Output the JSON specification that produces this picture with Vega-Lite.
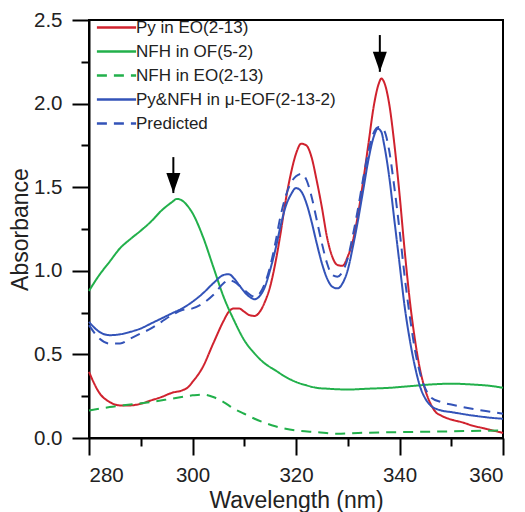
{
  "$schema": "https://vega.github.io/schema/vega-lite/v6.json",
  "autosize": {"type": "none"},
  "width": 414,
  "height": 418,
  "padding": {"left": 89, "top": 20, "right": 22, "bottom": 74},
  "config": {
    "font": "Liberation Sans",
    "view": {"stroke": "black", "strokeWidth": 2},
    "axis": {"ticks": true, "domainColor": "black", "domainWidth": 2, "tickColor": "black", "tickWidth": 2, "tickOpacity": 1, "labelColor": "#222", "titleColor": "#222", "grid": false, "labelFontSize": 20.5, "titleFontWeight": "normal"},
    "legend": {"labelFontSize": 17, "labelColor": "#222"}
  },
  "resolve": {"axis": {"x": "independent", "y": "independent"}},
  "datasets": {
    "curves": [
      {"series": "Py in EO(2-13)", "wl": 280, "abs": 0.395},
      {"series": "Py in EO(2-13)", "wl": 282, "abs": 0.27},
      {"series": "Py in EO(2-13)", "wl": 284, "abs": 0.215},
      {"series": "Py in EO(2-13)", "wl": 286, "abs": 0.195},
      {"series": "Py in EO(2-13)", "wl": 288, "abs": 0.195},
      {"series": "Py in EO(2-13)", "wl": 290, "abs": 0.205},
      {"series": "Py in EO(2-13)", "wl": 292, "abs": 0.225},
      {"series": "Py in EO(2-13)", "wl": 294, "abs": 0.245},
      {"series": "Py in EO(2-13)", "wl": 296, "abs": 0.27},
      {"series": "Py in EO(2-13)", "wl": 298, "abs": 0.285},
      {"series": "Py in EO(2-13)", "wl": 299, "abs": 0.3},
      {"series": "Py in EO(2-13)", "wl": 300, "abs": 0.335},
      {"series": "Py in EO(2-13)", "wl": 302, "abs": 0.425},
      {"series": "Py in EO(2-13)", "wl": 304, "abs": 0.565},
      {"series": "Py in EO(2-13)", "wl": 306, "abs": 0.7},
      {"series": "Py in EO(2-13)", "wl": 307, "abs": 0.755},
      {"series": "Py in EO(2-13)", "wl": 308, "abs": 0.775},
      {"series": "Py in EO(2-13)", "wl": 309, "abs": 0.775},
      {"series": "Py in EO(2-13)", "wl": 310, "abs": 0.755},
      {"series": "Py in EO(2-13)", "wl": 311, "abs": 0.735},
      {"series": "Py in EO(2-13)", "wl": 312, "abs": 0.73},
      {"series": "Py in EO(2-13)", "wl": 313, "abs": 0.755},
      {"series": "Py in EO(2-13)", "wl": 314, "abs": 0.815},
      {"series": "Py in EO(2-13)", "wl": 315, "abs": 0.905},
      {"series": "Py in EO(2-13)", "wl": 316, "abs": 1.045},
      {"series": "Py in EO(2-13)", "wl": 317, "abs": 1.22},
      {"series": "Py in EO(2-13)", "wl": 318, "abs": 1.42},
      {"series": "Py in EO(2-13)", "wl": 319, "abs": 1.58},
      {"series": "Py in EO(2-13)", "wl": 320, "abs": 1.7},
      {"series": "Py in EO(2-13)", "wl": 321, "abs": 1.76},
      {"series": "Py in EO(2-13)", "wl": 322, "abs": 1.75},
      {"series": "Py in EO(2-13)", "wl": 323, "abs": 1.68},
      {"series": "Py in EO(2-13)", "wl": 324, "abs": 1.54},
      {"series": "Py in EO(2-13)", "wl": 325, "abs": 1.38},
      {"series": "Py in EO(2-13)", "wl": 326, "abs": 1.2},
      {"series": "Py in EO(2-13)", "wl": 327, "abs": 1.085},
      {"series": "Py in EO(2-13)", "wl": 328, "abs": 1.035},
      {"series": "Py in EO(2-13)", "wl": 329, "abs": 1.03},
      {"series": "Py in EO(2-13)", "wl": 330, "abs": 1.085},
      {"series": "Py in EO(2-13)", "wl": 331, "abs": 1.18},
      {"series": "Py in EO(2-13)", "wl": 332, "abs": 1.34},
      {"series": "Py in EO(2-13)", "wl": 333, "abs": 1.54},
      {"series": "Py in EO(2-13)", "wl": 334, "abs": 1.76},
      {"series": "Py in EO(2-13)", "wl": 335, "abs": 1.98},
      {"series": "Py in EO(2-13)", "wl": 336, "abs": 2.12},
      {"series": "Py in EO(2-13)", "wl": 336.5, "abs": 2.15},
      {"series": "Py in EO(2-13)", "wl": 337, "abs": 2.13},
      {"series": "Py in EO(2-13)", "wl": 338, "abs": 2.0},
      {"series": "Py in EO(2-13)", "wl": 339, "abs": 1.76},
      {"series": "Py in EO(2-13)", "wl": 340, "abs": 1.46},
      {"series": "Py in EO(2-13)", "wl": 341, "abs": 1.12},
      {"series": "Py in EO(2-13)", "wl": 342, "abs": 0.82},
      {"series": "Py in EO(2-13)", "wl": 343, "abs": 0.585},
      {"series": "Py in EO(2-13)", "wl": 344, "abs": 0.405},
      {"series": "Py in EO(2-13)", "wl": 345, "abs": 0.285},
      {"series": "Py in EO(2-13)", "wl": 346, "abs": 0.205},
      {"series": "Py in EO(2-13)", "wl": 347, "abs": 0.155},
      {"series": "Py in EO(2-13)", "wl": 348, "abs": 0.135},
      {"series": "Py in EO(2-13)", "wl": 350, "abs": 0.11},
      {"series": "Py in EO(2-13)", "wl": 352, "abs": 0.095},
      {"series": "Py in EO(2-13)", "wl": 354, "abs": 0.075},
      {"series": "Py in EO(2-13)", "wl": 356, "abs": 0.06},
      {"series": "Py in EO(2-13)", "wl": 358, "abs": 0.045},
      {"series": "Py in EO(2-13)", "wl": 360, "abs": 0.03},

      {"series": "NFH in OF(5-2)", "wl": 280, "abs": 0.88},
      {"series": "NFH in OF(5-2)", "wl": 282, "abs": 0.975},
      {"series": "NFH in OF(5-2)", "wl": 284, "abs": 1.055},
      {"series": "NFH in OF(5-2)", "wl": 286, "abs": 1.135},
      {"series": "NFH in OF(5-2)", "wl": 288, "abs": 1.19},
      {"series": "NFH in OF(5-2)", "wl": 290, "abs": 1.24},
      {"series": "NFH in OF(5-2)", "wl": 292, "abs": 1.295},
      {"series": "NFH in OF(5-2)", "wl": 294, "abs": 1.36},
      {"series": "NFH in OF(5-2)", "wl": 296, "abs": 1.41},
      {"series": "NFH in OF(5-2)", "wl": 297, "abs": 1.43},
      {"series": "NFH in OF(5-2)", "wl": 298, "abs": 1.42},
      {"series": "NFH in OF(5-2)", "wl": 299, "abs": 1.39},
      {"series": "NFH in OF(5-2)", "wl": 300, "abs": 1.345},
      {"series": "NFH in OF(5-2)", "wl": 302, "abs": 1.205},
      {"series": "NFH in OF(5-2)", "wl": 304, "abs": 1.025},
      {"series": "NFH in OF(5-2)", "wl": 306, "abs": 0.845},
      {"series": "NFH in OF(5-2)", "wl": 308, "abs": 0.705},
      {"series": "NFH in OF(5-2)", "wl": 310, "abs": 0.585},
      {"series": "NFH in OF(5-2)", "wl": 312, "abs": 0.505},
      {"series": "NFH in OF(5-2)", "wl": 314, "abs": 0.445},
      {"series": "NFH in OF(5-2)", "wl": 316, "abs": 0.405},
      {"series": "NFH in OF(5-2)", "wl": 318, "abs": 0.365},
      {"series": "NFH in OF(5-2)", "wl": 320, "abs": 0.335},
      {"series": "NFH in OF(5-2)", "wl": 322, "abs": 0.315},
      {"series": "NFH in OF(5-2)", "wl": 324, "abs": 0.3},
      {"series": "NFH in OF(5-2)", "wl": 326, "abs": 0.295},
      {"series": "NFH in OF(5-2)", "wl": 330, "abs": 0.29},
      {"series": "NFH in OF(5-2)", "wl": 334, "abs": 0.295},
      {"series": "NFH in OF(5-2)", "wl": 338, "abs": 0.3},
      {"series": "NFH in OF(5-2)", "wl": 342, "abs": 0.31},
      {"series": "NFH in OF(5-2)", "wl": 346, "abs": 0.32},
      {"series": "NFH in OF(5-2)", "wl": 350, "abs": 0.325},
      {"series": "NFH in OF(5-2)", "wl": 354, "abs": 0.32},
      {"series": "NFH in OF(5-2)", "wl": 358, "abs": 0.31},
      {"series": "NFH in OF(5-2)", "wl": 360, "abs": 0.3},

      {"series": "NFH in EO(2-13)", "wl": 280, "abs": 0.165},
      {"series": "NFH in EO(2-13)", "wl": 284, "abs": 0.185},
      {"series": "NFH in EO(2-13)", "wl": 288, "abs": 0.2},
      {"series": "NFH in EO(2-13)", "wl": 292, "abs": 0.215},
      {"series": "NFH in EO(2-13)", "wl": 296, "abs": 0.235},
      {"series": "NFH in EO(2-13)", "wl": 300, "abs": 0.255},
      {"series": "NFH in EO(2-13)", "wl": 302, "abs": 0.26},
      {"series": "NFH in EO(2-13)", "wl": 304, "abs": 0.245},
      {"series": "NFH in EO(2-13)", "wl": 306, "abs": 0.215},
      {"series": "NFH in EO(2-13)", "wl": 308, "abs": 0.175},
      {"series": "NFH in EO(2-13)", "wl": 310, "abs": 0.145},
      {"series": "NFH in EO(2-13)", "wl": 312, "abs": 0.115},
      {"series": "NFH in EO(2-13)", "wl": 314, "abs": 0.09},
      {"series": "NFH in EO(2-13)", "wl": 316, "abs": 0.07},
      {"series": "NFH in EO(2-13)", "wl": 318, "abs": 0.055},
      {"series": "NFH in EO(2-13)", "wl": 320, "abs": 0.045},
      {"series": "NFH in EO(2-13)", "wl": 324, "abs": 0.035},
      {"series": "NFH in EO(2-13)", "wl": 328, "abs": 0.025},
      {"series": "NFH in EO(2-13)", "wl": 332, "abs": 0.03},
      {"series": "NFH in EO(2-13)", "wl": 340, "abs": 0.035},
      {"series": "NFH in EO(2-13)", "wl": 350, "abs": 0.04},
      {"series": "NFH in EO(2-13)", "wl": 360, "abs": 0.045},

      {"series": "Py&NFH in μ-EOF(2-13-2)", "wl": 280, "abs": 0.695},
      {"series": "Py&NFH in μ-EOF(2-13-2)", "wl": 282, "abs": 0.635},
      {"series": "Py&NFH in μ-EOF(2-13-2)", "wl": 284, "abs": 0.615},
      {"series": "Py&NFH in μ-EOF(2-13-2)", "wl": 286, "abs": 0.62},
      {"series": "Py&NFH in μ-EOF(2-13-2)", "wl": 288, "abs": 0.635},
      {"series": "Py&NFH in μ-EOF(2-13-2)", "wl": 290, "abs": 0.655},
      {"series": "Py&NFH in μ-EOF(2-13-2)", "wl": 292, "abs": 0.685},
      {"series": "Py&NFH in μ-EOF(2-13-2)", "wl": 294, "abs": 0.715},
      {"series": "Py&NFH in μ-EOF(2-13-2)", "wl": 296, "abs": 0.745},
      {"series": "Py&NFH in μ-EOF(2-13-2)", "wl": 298, "abs": 0.775},
      {"series": "Py&NFH in μ-EOF(2-13-2)", "wl": 300, "abs": 0.815},
      {"series": "Py&NFH in μ-EOF(2-13-2)", "wl": 302, "abs": 0.865},
      {"series": "Py&NFH in μ-EOF(2-13-2)", "wl": 304, "abs": 0.925},
      {"series": "Py&NFH in μ-EOF(2-13-2)", "wl": 306, "abs": 0.975},
      {"series": "Py&NFH in μ-EOF(2-13-2)", "wl": 307, "abs": 0.98},
      {"series": "Py&NFH in μ-EOF(2-13-2)", "wl": 308, "abs": 0.955},
      {"series": "Py&NFH in μ-EOF(2-13-2)", "wl": 309, "abs": 0.915},
      {"series": "Py&NFH in μ-EOF(2-13-2)", "wl": 310, "abs": 0.875},
      {"series": "Py&NFH in μ-EOF(2-13-2)", "wl": 311, "abs": 0.845},
      {"series": "Py&NFH in μ-EOF(2-13-2)", "wl": 312, "abs": 0.83},
      {"series": "Py&NFH in μ-EOF(2-13-2)", "wl": 313, "abs": 0.85},
      {"series": "Py&NFH in μ-EOF(2-13-2)", "wl": 314, "abs": 0.905},
      {"series": "Py&NFH in μ-EOF(2-13-2)", "wl": 315, "abs": 1.005},
      {"series": "Py&NFH in μ-EOF(2-13-2)", "wl": 316, "abs": 1.125},
      {"series": "Py&NFH in μ-EOF(2-13-2)", "wl": 317, "abs": 1.265},
      {"series": "Py&NFH in μ-EOF(2-13-2)", "wl": 318, "abs": 1.385},
      {"series": "Py&NFH in μ-EOF(2-13-2)", "wl": 319, "abs": 1.455},
      {"series": "Py&NFH in μ-EOF(2-13-2)", "wl": 320, "abs": 1.495},
      {"series": "Py&NFH in μ-EOF(2-13-2)", "wl": 321, "abs": 1.475},
      {"series": "Py&NFH in μ-EOF(2-13-2)", "wl": 322, "abs": 1.405},
      {"series": "Py&NFH in μ-EOF(2-13-2)", "wl": 323, "abs": 1.295},
      {"series": "Py&NFH in μ-EOF(2-13-2)", "wl": 324, "abs": 1.165},
      {"series": "Py&NFH in μ-EOF(2-13-2)", "wl": 325, "abs": 1.045},
      {"series": "Py&NFH in μ-EOF(2-13-2)", "wl": 326, "abs": 0.955},
      {"series": "Py&NFH in μ-EOF(2-13-2)", "wl": 327, "abs": 0.905},
      {"series": "Py&NFH in μ-EOF(2-13-2)", "wl": 328, "abs": 0.895},
      {"series": "Py&NFH in μ-EOF(2-13-2)", "wl": 329, "abs": 0.925},
      {"series": "Py&NFH in μ-EOF(2-13-2)", "wl": 330, "abs": 1.005},
      {"series": "Py&NFH in μ-EOF(2-13-2)", "wl": 331, "abs": 1.145},
      {"series": "Py&NFH in μ-EOF(2-13-2)", "wl": 332, "abs": 1.305},
      {"series": "Py&NFH in μ-EOF(2-13-2)", "wl": 333, "abs": 1.485},
      {"series": "Py&NFH in μ-EOF(2-13-2)", "wl": 334, "abs": 1.665},
      {"series": "Py&NFH in μ-EOF(2-13-2)", "wl": 335, "abs": 1.8},
      {"series": "Py&NFH in μ-EOF(2-13-2)", "wl": 335.8, "abs": 1.85},
      {"series": "Py&NFH in μ-EOF(2-13-2)", "wl": 336.5, "abs": 1.83},
      {"series": "Py&NFH in μ-EOF(2-13-2)", "wl": 337, "abs": 1.76},
      {"series": "Py&NFH in μ-EOF(2-13-2)", "wl": 338, "abs": 1.565},
      {"series": "Py&NFH in μ-EOF(2-13-2)", "wl": 339, "abs": 1.305},
      {"series": "Py&NFH in μ-EOF(2-13-2)", "wl": 340, "abs": 1.045},
      {"series": "Py&NFH in μ-EOF(2-13-2)", "wl": 341, "abs": 0.785},
      {"series": "Py&NFH in μ-EOF(2-13-2)", "wl": 342, "abs": 0.585},
      {"series": "Py&NFH in μ-EOF(2-13-2)", "wl": 343, "abs": 0.425},
      {"series": "Py&NFH in μ-EOF(2-13-2)", "wl": 344, "abs": 0.305},
      {"series": "Py&NFH in μ-EOF(2-13-2)", "wl": 345, "abs": 0.235},
      {"series": "Py&NFH in μ-EOF(2-13-2)", "wl": 346, "abs": 0.195},
      {"series": "Py&NFH in μ-EOF(2-13-2)", "wl": 348, "abs": 0.165},
      {"series": "Py&NFH in μ-EOF(2-13-2)", "wl": 350, "abs": 0.155},
      {"series": "Py&NFH in μ-EOF(2-13-2)", "wl": 354, "abs": 0.135},
      {"series": "Py&NFH in μ-EOF(2-13-2)", "wl": 358, "abs": 0.12},
      {"series": "Py&NFH in μ-EOF(2-13-2)", "wl": 360, "abs": 0.115},

      {"series": "Predicted", "wl": 280, "abs": 0.675},
      {"series": "Predicted", "wl": 282, "abs": 0.595},
      {"series": "Predicted", "wl": 284, "abs": 0.565},
      {"series": "Predicted", "wl": 286, "abs": 0.565},
      {"series": "Predicted", "wl": 288, "abs": 0.595},
      {"series": "Predicted", "wl": 290, "abs": 0.625},
      {"series": "Predicted", "wl": 292, "abs": 0.655},
      {"series": "Predicted", "wl": 294, "abs": 0.695},
      {"series": "Predicted", "wl": 296, "abs": 0.735},
      {"series": "Predicted", "wl": 298, "abs": 0.765},
      {"series": "Predicted", "wl": 300, "abs": 0.775},
      {"series": "Predicted", "wl": 302, "abs": 0.805},
      {"series": "Predicted", "wl": 304, "abs": 0.855},
      {"series": "Predicted", "wl": 306, "abs": 0.925},
      {"series": "Predicted", "wl": 307, "abs": 0.945},
      {"series": "Predicted", "wl": 308, "abs": 0.935},
      {"series": "Predicted", "wl": 310, "abs": 0.885},
      {"series": "Predicted", "wl": 312, "abs": 0.845},
      {"series": "Predicted", "wl": 313, "abs": 0.865},
      {"series": "Predicted", "wl": 314, "abs": 0.925},
      {"series": "Predicted", "wl": 315, "abs": 1.025},
      {"series": "Predicted", "wl": 316, "abs": 1.165},
      {"series": "Predicted", "wl": 317, "abs": 1.325},
      {"series": "Predicted", "wl": 318, "abs": 1.445},
      {"series": "Predicted", "wl": 319, "abs": 1.525},
      {"series": "Predicted", "wl": 320, "abs": 1.565},
      {"series": "Predicted", "wl": 321, "abs": 1.58},
      {"series": "Predicted", "wl": 322, "abs": 1.545},
      {"series": "Predicted", "wl": 323, "abs": 1.445},
      {"series": "Predicted", "wl": 324, "abs": 1.305},
      {"series": "Predicted", "wl": 325, "abs": 1.165},
      {"series": "Predicted", "wl": 326, "abs": 1.045},
      {"series": "Predicted", "wl": 327, "abs": 0.975},
      {"series": "Predicted", "wl": 328, "abs": 0.965},
      {"series": "Predicted", "wl": 329, "abs": 0.995},
      {"series": "Predicted", "wl": 330, "abs": 1.075},
      {"series": "Predicted", "wl": 331, "abs": 1.215},
      {"series": "Predicted", "wl": 332, "abs": 1.375},
      {"series": "Predicted", "wl": 333, "abs": 1.555},
      {"series": "Predicted", "wl": 334, "abs": 1.715},
      {"series": "Predicted", "wl": 335, "abs": 1.825},
      {"series": "Predicted", "wl": 336, "abs": 1.86},
      {"series": "Predicted", "wl": 337, "abs": 1.84},
      {"series": "Predicted", "wl": 338, "abs": 1.72},
      {"series": "Predicted", "wl": 339, "abs": 1.5},
      {"series": "Predicted", "wl": 340, "abs": 1.245},
      {"series": "Predicted", "wl": 341, "abs": 0.965},
      {"series": "Predicted", "wl": 342, "abs": 0.725},
      {"series": "Predicted", "wl": 343, "abs": 0.525},
      {"series": "Predicted", "wl": 344, "abs": 0.385},
      {"series": "Predicted", "wl": 345, "abs": 0.295},
      {"series": "Predicted", "wl": 346, "abs": 0.245},
      {"series": "Predicted", "wl": 348, "abs": 0.215},
      {"series": "Predicted", "wl": 350, "abs": 0.2},
      {"series": "Predicted", "wl": 354, "abs": 0.175},
      {"series": "Predicted", "wl": 358, "abs": 0.155},
      {"series": "Predicted", "wl": 360, "abs": 0.145}
    ],
    "arrows": [
      {"wl": 296.3, "top": 1.68, "tip": 1.465},
      {"wl": 336.2, "top": 2.41, "tip": 2.19}
    ]
  },
  "layer": [
    {
      "data": {"name": "curves"},
      "mark": {"type": "line", "interpolate": "monotone", "strokeWidth": 2},
      "encoding": {
        "x": {
          "field": "wl", "type": "quantitative",
          "scale": {"domain": [280, 360], "nice": false, "zero": false},
          "axis": {
            "orient": "bottom",
            "title": "Wavelength (nm)",
            "titleFontSize": 23,
            "values": [280, 300, 320, 340, 360],
            "ticks": true, "tickColor": "black", "tickWidth": 2, "tickOpacity": 1,
            "tickSize": 17,
            "labelPadding": 10,
            "titlePadding": 4
          }
        },
        "y": {
          "field": "abs", "type": "quantitative",
          "scale": {"domain": [0, 2.5], "nice": false},
          "axis": {
            "orient": "left",
            "title": "Absorbance",
            "titleFontSize": 23,
            "values": [0, 0.5, 1, 1.5, 2, 2.5],
            "format": ".1f",
            "ticks": true, "tickColor": "black", "tickWidth": 2, "tickOpacity": 1,
            "tickSize": 17,
            "labelPadding": 10,
            "titlePadding": 1.5
          }
        },
        "color": {
          "field": "series", "type": "nominal",
          "scale": {
            "domain": ["Py in EO(2-13)", "NFH in OF(5-2)", "NFH in EO(2-13)", "Py&NFH in μ-EOF(2-13-2)", "Predicted"],
            "range": ["#d0222e", "#22b04b", "#22b04b", "#3353b8", "#3353b8"]
          },
          "legend": {
            "title": null, "orient": "none", "legendX": 12, "legendY": -8,
            "symbolType": "M-1.4,0H1.4", "symbolSize": 784, "symbolStrokeWidth": 2.5,
            "rowPadding": 0, "labelOffset": 4, "padding": 0, "labelLimit": 0
          }
        },
        "strokeDash": {
          "field": "series", "type": "nominal",
          "scale": {
            "domain": ["Py in EO(2-13)", "NFH in OF(5-2)", "NFH in EO(2-13)", "Py&NFH in μ-EOF(2-13-2)", "Predicted"],
            "range": [[1, 0], [1, 0], [10, 7], [1, 0], [10, 7]]
          },
          "legend": {
            "title": null, "orient": "none", "legendX": 12, "legendY": -8,
            "symbolType": "M-1.4,0H1.4", "symbolSize": 784, "symbolStrokeWidth": 2.5,
            "rowPadding": 0, "labelOffset": 4, "padding": 0, "labelLimit": 0
          }
        }
      }
    },
    {
      "data": {"name": "arrows"},
      "mark": {"type": "rule", "color": "black", "strokeWidth": 2},
      "encoding": {
        "x": {
          "field": "wl", "type": "quantitative",
          "axis": {"orient": "bottom", "values": [290, 310, 330, 350], "ticks": true, "tickColor": "black", "tickWidth": 2, "tickOpacity": 1, "tickSize": 8, "labels": false, "domain": false, "title": null}
        },
        "y": {
          "field": "top", "type": "quantitative",
          "axis": {"orient": "left", "values": [0.25, 0.75, 1.25, 1.75, 2.25], "ticks": true, "tickColor": "black", "tickWidth": 2, "tickOpacity": 1, "tickSize": 8, "labels": false, "domain": false, "title": null}
        },
        "y2": {"field": "tip"}
      }
    },
    {
      "data": {"name": "arrows"},
      "mark": {"type": "point", "shape": "M-0.35,-1L0.35,-1L0,0Z", "size": 1600, "filled": true, "color": "black", "opacity": 1},
      "encoding": {
        "x": {"field": "wl", "type": "quantitative", "axis": null},
        "y": {"field": "tip", "type": "quantitative", "axis": null}
      }
    }
  ]
}
